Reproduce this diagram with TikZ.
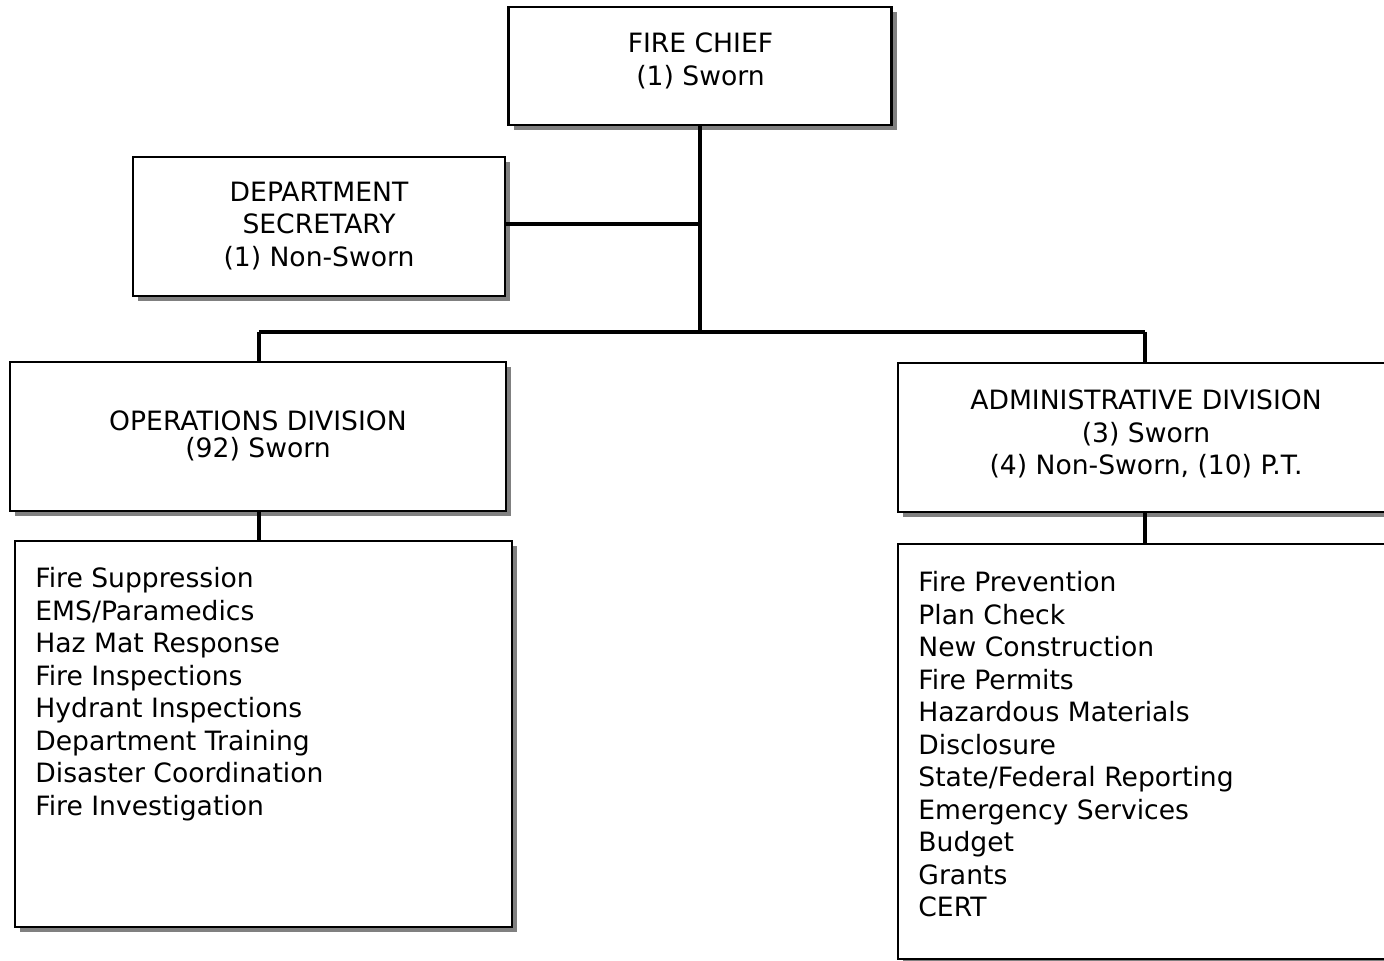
\documentclass[tikz,border=0pt]{standalone}
\usepackage{fontspec}
\setmainfont{DejaVu Sans}
\usetikzlibrary{shadows}
\begin{document}
\begin{tikzpicture}[x=0.5pt,y=-0.5pt,
  box/.style={draw=black,line width=1.1pt,fill=white,inner sep=0pt,
    drop shadow={shadow xshift=2.5pt,shadow yshift=-2.5pt,fill=black!50,opacity=1}},
  txt/.style={inner sep=0pt,align=center,font=\fontsize{13.3}{16.2}\selectfont},
  listtxt/.style={inner sep=0pt,align=left,anchor=north west,font=\fontsize{13.3}{16.25}\selectfont},
  wire/.style={line width=1.6pt}]
\useasboundingbox (0,0) rectangle (1384,961);

% boxes
\node[box,minimum width=191.5pt,minimum height=59pt] (chief) at (700,66) {};
\node[box,minimum width=186pt,minimum height=69.5pt] (sec) at (319,226.5) {};
\node[box,minimum width=248pt,minimum height=74.5pt] (ops) at (258,436.5) {};
\node[box,minimum width=248.5pt,minimum height=193pt] (opslist) at (263.5,734) {};
\node[box,minimum width=247pt,minimum height=74.5pt] (admin) at (1145,437.5) {};
\node[box,minimum width=247pt,minimum height=207.5pt] (adminlist) at (1145,751.5) {};

% texts
\node[txt] (chieftxt) at (700.5,61) {FIRE CHIEF\\(1) Sworn};
\node[txt] (sectxt) at (319,226) {DEPARTMENT\\SECRETARY\\(1) Non-Sworn};
\node[txt,font=\fontsize{13.3}{13.5}\selectfont] (opstxt) at (258,435.5) {OPERATIONS DIVISION\\(92) Sworn};
\node[txt] (admintxt) at (1146,434) {ADMINISTRATIVE DIVISION\\(3) Sworn\\(4) Non-Sworn, (10) P.T.};
\node[listtxt] (opsitems) at (35,567) {Fire Suppression\\EMS/Paramedics\\Haz Mat Response\\Fire Inspections\\Hydrant Inspections\\Department Training\\Disaster Coordination\\Fire Investigation};
\node[listtxt] (adminitems) at (918,571) {Fire Prevention\\Plan Check\\New Construction\\Fire Permits\\Hazardous Materials\\Disclosure\\State/Federal Reporting\\Emergency Services\\Budget\\Grants\\CERT};

% connectors
\coordinate (bus) at (700,332);
\coordinate (busL) at (259,332);
\coordinate (busR) at (1145,332);
\draw[wire] (chief.south) -- (bus);
\draw[wire] (sec.east |- 0,224) -- (bus |- 0,224);
\draw[wire] (busL) -- (busR);
\draw[wire] (busL) -- (busL |- ops.north);
\draw[wire] (busR) -- (busR |- admin.north);
\draw[wire] (ops.south -| busL) -- (busL |- opslist.north);
\draw[wire] (admin.south) -- (admin.south |- adminlist.north);
\end{tikzpicture}
\end{document}
